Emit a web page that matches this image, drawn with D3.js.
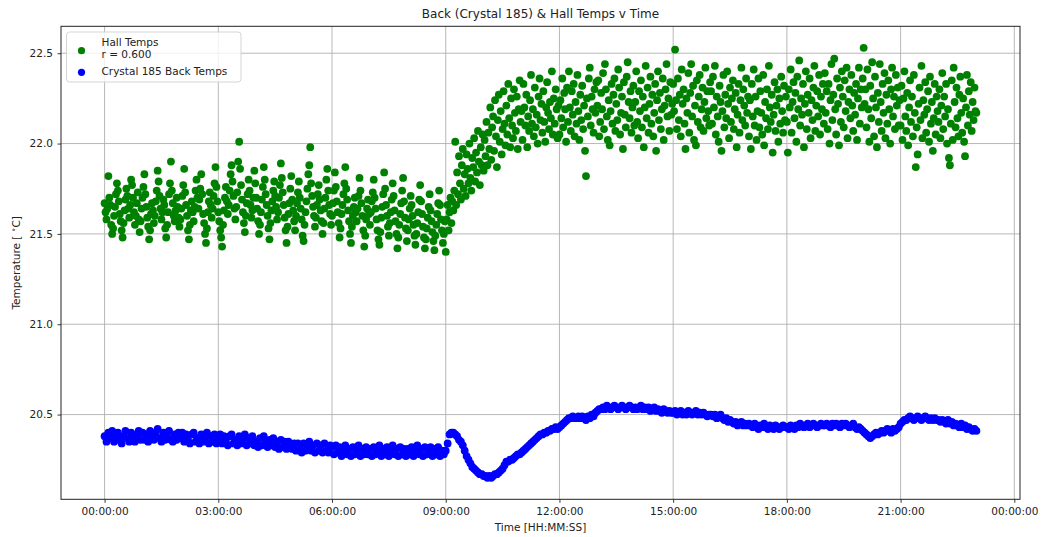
<!DOCTYPE html>
<html>
<head>
<meta charset="utf-8">
<script src="https://cdn.jsdelivr.net/npm/d3@7"></script>
<style>
  body { margin: 0; background: #fff; }
  svg text { font-family: "DejaVu Sans", sans-serif; fill: #222; }
</style>
</head>
<body>
<div id="chart"></div>
<script>
// Hall temps, one reading every 1.5 minutes from 00:00:00 (one row per hour)
const hallStepMin = 1.5;
const hallTemps = [
  21.67,21.62,21.58,21.64,21.82,21.70,21.66,21.55,21.50,21.53,21.60,21.65,21.72,21.78,21.74,21.68,21.61,21.57,21.52,21.48,21.56,21.63,21.69,21.75,21.71,21.64,21.59,21.66,21.80,21.77,21.70,21.62,21.55,21.60,21.67,21.73,21.58,21.51,21.57,21.64,
  21.70,21.76,21.83,21.72,21.65,21.59,21.54,21.47,21.52,21.61,21.67,21.63,21.56,21.60,21.68,21.74,21.85,21.79,21.71,21.64,21.58,21.62,21.69,21.66,21.53,21.48,21.55,21.62,21.72,21.78,21.90,21.74,21.67,21.60,21.57,21.63,21.70,21.65,21.59,21.54,
  21.58,21.64,21.71,21.77,21.86,21.73,21.66,21.60,21.52,21.47,21.55,21.63,21.68,21.62,21.57,21.65,21.74,21.80,21.70,21.64,21.69,21.75,21.83,21.72,21.61,21.56,21.50,21.45,21.53,21.62,21.68,21.73,21.66,21.59,21.64,21.71,21.78,21.87,21.76,21.68,
  21.62,21.57,21.52,21.48,21.43,21.55,21.63,21.70,21.76,21.68,21.61,21.66,21.74,21.83,21.88,21.79,21.71,21.64,21.58,21.65,21.73,21.90,22.01,21.86,21.77,21.69,21.62,21.56,21.51,21.60,21.67,21.72,21.80,21.74,21.66,21.59,21.63,21.70,21.85,21.78,
  21.70,21.64,21.57,21.50,21.55,21.62,21.69,21.76,21.87,21.80,21.72,21.66,21.60,21.53,21.47,21.56,21.63,21.68,21.74,21.79,21.71,21.65,21.58,21.62,21.70,21.77,21.89,21.81,21.73,21.66,21.59,21.52,21.45,21.54,21.61,21.67,21.75,21.82,21.69,21.63,
  21.57,21.52,21.60,21.67,21.73,21.79,21.70,21.64,21.58,21.49,21.46,21.55,21.62,21.68,21.75,21.83,21.88,21.98,21.78,21.71,21.65,21.60,21.54,21.59,21.66,21.72,21.77,21.69,21.63,21.57,21.50,21.56,21.64,21.70,21.80,21.86,21.74,21.66,21.61,21.55,
  21.60,21.67,21.74,21.84,21.76,21.68,21.62,21.56,21.48,21.53,21.61,21.66,21.72,21.78,21.87,21.75,21.69,21.63,21.57,21.50,21.45,21.54,21.60,21.65,21.70,21.62,21.57,21.64,21.71,21.81,21.74,21.67,21.60,21.52,21.43,21.49,21.58,21.64,21.69,21.61,
  21.55,21.62,21.68,21.73,21.80,21.70,21.64,21.58,21.52,21.47,21.44,21.51,21.59,21.65,21.72,21.84,21.75,21.66,21.60,21.54,21.49,21.56,21.62,21.69,21.78,21.71,21.63,21.57,21.50,21.42,21.48,21.55,21.61,21.67,21.74,21.81,21.68,21.59,21.53,21.46,
  21.52,21.58,21.64,21.71,21.66,21.60,21.55,21.49,21.44,21.50,21.56,21.62,21.69,21.77,21.68,21.61,21.54,21.48,21.42,21.47,21.53,21.59,21.65,21.72,21.63,21.57,21.51,21.46,21.41,21.49,21.55,21.61,21.67,21.74,21.66,21.58,21.52,21.45,21.50,21.57,
  21.40,21.58,21.66,21.52,21.62,21.70,21.56,21.68,21.63,21.74,22.01,21.66,21.84,21.72,21.93,21.78,21.69,21.88,21.97,21.75,21.83,21.71,21.94,21.86,21.78,22.00,21.81,21.74,21.92,21.87,22.03,21.79,21.95,21.84,22.07,21.90,21.77,21.98,21.88,22.05,
  21.85,22.02,21.93,22.12,21.88,22.06,21.97,22.20,21.91,22.09,22.15,21.96,22.24,22.04,21.87,22.13,22.27,22.01,22.18,21.94,22.08,22.29,22.11,21.99,22.21,22.05,22.33,22.14,21.98,22.25,22.10,22.03,22.30,22.17,22.07,22.26,21.97,22.19,22.35,22.12,
  22.18,22.02,22.33,22.20,22.10,22.27,21.98,22.15,22.07,22.24,22.38,22.11,22.19,22.04,22.31,22.09,22.16,22.00,22.26,22.36,22.13,22.22,22.06,22.29,22.12,22.01,22.20,22.34,22.17,22.08,22.23,22.14,22.40,22.05,22.25,22.11,22.30,22.19,22.03,22.21,
  22.05,22.24,22.14,22.36,22.09,22.28,22.19,22.01,22.31,22.12,22.40,22.20,22.07,22.29,22.16,22.33,22.04,22.23,22.11,22.38,22.18,22.02,22.27,22.13,22.32,22.08,22.21,21.96,21.82,22.25,22.15,22.36,22.42,22.10,22.26,22.19,22.06,22.30,22.17,22.34,
  22.21,22.35,22.04,22.12,22.28,22.19,22.39,22.08,22.44,22.30,22.15,22.02,22.24,21.99,22.18,22.33,22.11,22.27,22.36,22.07,22.22,22.13,22.41,22.31,22.05,22.17,22.26,21.97,22.34,22.16,22.09,22.37,22.45,22.23,22.14,22.29,22.06,22.20,22.32,22.10,
  22.23,22.40,22.12,22.03,22.29,22.18,22.35,22.09,22.26,21.98,22.20,22.43,22.14,22.31,22.06,22.22,22.37,22.11,22.27,22.04,22.17,22.33,21.96,22.24,22.40,22.13,22.28,22.08,22.19,22.36,22.02,22.21,22.30,22.44,22.15,22.25,22.07,22.34,22.16,22.22,
  22.33,22.18,22.52,22.24,22.08,22.36,22.13,22.27,22.04,22.41,22.22,22.30,22.11,21.97,22.25,22.17,22.39,22.06,22.28,22.44,22.15,22.32,22.02,22.21,21.99,22.35,22.12,22.26,22.38,22.09,22.19,22.31,22.07,22.23,22.42,22.14,22.29,22.18,22.10,22.34,
  22.29,22.11,22.37,22.20,22.43,22.05,22.26,22.15,22.01,22.32,22.23,21.96,22.18,22.38,22.09,22.27,22.14,22.40,22.22,22.03,22.31,22.12,22.25,22.35,22.08,22.19,22.28,21.98,22.16,22.33,22.06,22.24,22.42,22.13,22.30,22.21,22.10,22.36,22.17,22.26,
  22.04,22.24,21.97,22.33,22.15,22.41,22.10,22.26,22.02,22.18,22.36,22.09,22.29,22.17,22.05,22.38,21.99,22.23,22.14,22.30,22.08,22.43,22.20,22.12,22.27,21.95,22.16,22.34,22.07,22.21,22.30,22.01,22.25,22.11,22.37,22.18,22.06,22.32,22.13,22.26,
  22.12,21.95,22.30,22.20,22.41,22.06,22.23,22.34,22.14,22.28,22.01,22.37,22.19,22.46,22.10,22.25,22.16,22.33,21.98,22.22,22.40,22.08,22.27,22.17,22.36,22.03,22.24,22.13,22.31,22.43,22.07,22.21,22.29,22.15,22.38,22.05,22.26,22.19,22.33,22.11,
  22.39,22.17,22.29,22.08,22.33,22.00,22.24,22.44,22.13,22.27,22.47,22.19,22.05,22.36,22.22,21.99,22.31,22.12,22.40,22.26,22.09,22.35,22.18,22.42,22.03,22.23,22.30,22.14,22.38,22.21,22.07,22.28,22.16,22.33,22.02,22.25,22.42,22.11,22.30,22.20,
  22.36,22.53,22.22,22.30,22.09,22.41,22.19,22.01,22.32,22.14,22.45,22.25,22.04,22.37,22.20,21.98,22.28,22.12,22.44,22.23,22.07,22.33,22.17,22.39,22.03,22.27,22.11,22.35,22.19,22.00,22.30,22.42,22.15,22.26,22.08,22.38,22.21,22.31,22.10,22.24,
  22.10,22.32,22.02,22.25,22.40,22.15,22.07,22.28,21.99,22.20,22.35,22.12,22.26,22.04,22.38,22.17,21.87,22.09,21.94,22.22,22.31,22.13,22.43,22.03,22.24,22.16,22.34,22.06,22.19,22.29,22.01,22.37,22.11,22.23,21.96,22.14,22.33,22.05,22.26,22.18,
  22.12,22.30,22.03,22.21,22.39,22.08,22.26,22.15,22.33,22.00,22.19,21.92,21.88,22.11,22.35,22.02,22.42,22.23,22.09,22.31,22.14,22.04,22.27,22.37,22.17,22.06,22.25,22.01,21.93,22.20,22.38,22.10,22.29,22.16,22.34,22.07,22.23,22.13,22.31,22.18,
  22.17
];

// Crystal 185 back temps, one reading every 3 minutes from 00:00:00
const backStepMin = 3;
const backTemps = [
  20.38,20.35,20.40,20.37,20.41,20.35,20.39,20.40,20.36,20.34,20.38,20.41,20.37,20.35,20.40,20.38,20.35,20.39,20.41,20.36,
  20.40,20.36,20.39,20.35,20.41,20.38,20.36,20.40,20.42,20.37,20.35,20.40,20.36,20.38,20.41,20.36,20.35,20.39,20.36,20.40,
  20.37,20.40,20.35,20.39,20.36,20.34,20.39,20.40,20.35,20.37,20.34,20.39,20.35,20.37,20.40,20.34,20.38,20.35,20.39,20.34,
  20.36,20.39,20.34,20.38,20.35,20.33,20.38,20.39,20.34,20.36,20.33,20.38,20.34,20.36,20.39,20.33,20.37,20.34,20.38,20.33,
  20.35,20.32,20.37,20.33,20.38,20.35,20.32,20.36,20.33,20.37,20.32,20.35,20.31,20.36,20.32,20.35,20.31,20.35,20.32,20.31,
  20.34,20.30,20.34,20.31,20.29,20.34,20.30,20.32,20.35,20.30,20.33,20.29,20.34,20.30,20.33,20.29,20.34,20.30,20.29,20.33,
  20.32,20.28,20.33,20.29,20.32,20.27,20.30,20.33,20.28,20.31,20.27,20.32,20.28,20.30,20.33,20.27,20.31,20.28,20.32,20.28,
  20.31,20.27,20.32,20.28,20.30,20.33,20.27,20.31,20.28,20.32,20.27,20.30,20.33,20.28,20.31,20.27,20.32,20.28,20.31,20.27,
  20.31,20.28,20.32,20.27,20.30,20.33,20.28,20.31,20.27,20.32,20.28,20.30,20.32,20.27,20.31,20.28,20.32,20.27,20.30,20.28,
  20.30,20.34,20.39,20.40,20.40,20.39,20.38,20.36,20.35,20.33,20.30,20.27,20.25,20.23,20.21,20.20,20.19,20.18,20.17,20.17,
  20.16,20.16,20.15,20.16,20.15,20.16,20.17,20.17,20.18,20.19,20.20,20.22,20.24,20.24,20.25,20.25,20.26,20.27,20.28,20.28,
  20.29,20.30,20.31,20.32,20.33,20.34,20.35,20.36,20.37,20.38,20.39,20.39,20.40,20.40,20.41,20.41,20.42,20.42,20.43,20.42,
  20.43,20.44,20.45,20.46,20.47,20.48,20.48,20.49,20.48,20.48,20.49,20.48,20.49,20.48,20.47,20.49,20.48,20.50,20.49,20.51,
  20.52,20.53,20.53,20.54,20.53,20.55,20.54,20.53,20.54,20.55,20.54,20.53,20.54,20.55,20.54,20.53,20.54,20.55,20.54,20.53,
  20.54,20.53,20.54,20.55,20.53,20.54,20.53,20.54,20.52,20.53,20.54,20.52,20.53,20.52,20.51,20.53,20.52,20.51,20.52,20.51,
  20.51,20.52,20.50,20.51,20.52,20.50,20.51,20.50,20.52,20.51,20.50,20.51,20.52,20.50,20.51,20.50,20.51,20.50,20.49,20.50,
  20.50,20.49,20.50,20.48,20.49,20.50,20.48,20.47,20.48,20.46,20.47,20.46,20.45,20.46,20.44,20.45,20.46,20.44,20.45,20.44,
  20.45,20.44,20.43,20.45,20.44,20.42,20.44,20.43,20.45,20.43,20.42,20.44,20.43,20.42,20.44,20.43,20.42,20.43,20.44,20.43,
  20.43,20.42,20.44,20.43,20.42,20.44,20.43,20.45,20.44,20.43,20.44,20.45,20.43,20.44,20.45,20.44,20.43,20.44,20.45,20.44,
  20.44,20.45,20.44,20.43,20.45,20.44,20.45,20.44,20.43,20.45,20.44,20.45,20.44,20.43,20.44,20.45,20.43,20.42,20.43,20.42,
  20.41,20.40,20.39,20.38,20.37,20.38,20.39,20.40,20.39,20.40,20.41,20.40,20.41,20.42,20.41,20.40,20.42,20.41,20.42,20.43,
  20.45,20.46,20.47,20.47,20.48,20.49,20.48,20.47,20.48,20.49,20.48,20.47,20.48,20.49,20.48,20.47,20.48,20.47,20.48,20.47,
  20.47,20.46,20.47,20.46,20.45,20.47,20.45,20.46,20.44,20.45,20.44,20.43,20.45,20.43,20.44,20.42,20.43,20.42,20.41,20.42,
  20.41
];

const xTickHours = [0, 3, 6, 9, 12, 15, 18, 21, 24];
const yTicks = [20.5, 21.0, 21.5, 22.0, 22.5];
const legendLabels = [["Hall Temps", "r = 0.600"], ["Crystal 185 Back Temps"]];

function drawChart() {
    const W = 1041, H = 537;
    const margin = { top: 26.3, right: 21, bottom: 37.7, left: 61 };
    const width = W - margin.left - margin.right;
    const height = H - margin.top - margin.bottom;
    const dotR = 3.9;

    const hall = hallTemps.map((v, i) => ({ t: i * hallStepMin / 60, v }));
    const back = backTemps.map((v, i) => ({ t: i * backStepMin / 60, v }));
    const all = hall.concat(back);

    // matplotlib style 5% margins
    const padded = ext => {
        const s = ext[1] - ext[0];
        return [ext[0] - 0.05 * s, ext[1] + 0.05 * s];
    };
    const x = d3.scaleLinear().domain(padded(d3.extent(all, d => d.t))).range([0, width]);
    const y = d3.scaleLinear().domain(padded(d3.extent(all, d => d.v))).range([height, 0]);

    const svg = d3.select("#chart").append("svg")
        .attr("width", W).attr("height", H)
        .append("g")
        .attr("transform", `translate(${margin.left},${margin.top})`);

    // grid
    svg.append("g").selectAll("line").data(xTickHours).join("line")
        .attr("x1", d => x(d)).attr("x2", d => x(d))
        .attr("y1", 0).attr("y2", height)
        .attr("stroke", "#b0b0b0").attr("stroke-width", 0.9);
    svg.append("g").selectAll("line").data(yTicks).join("line")
        .attr("x1", 0).attr("x2", width)
        .attr("y1", d => y(d)).attr("y2", d => y(d))
        .attr("stroke", "#b0b0b0").attr("stroke-width", 0.9);

    // points
    svg.append("g").selectAll("circle").data(hall).join("circle")
        .attr("cx", d => x(d.t)).attr("cy", d => y(d.v)).attr("r", dotR)
        .attr("fill", "#008000");
    svg.append("g").selectAll("circle").data(back).join("circle")
        .attr("cx", d => x(d.t)).attr("cy", d => y(d.v)).attr("r", dotR)
        .attr("fill", "#0000ff");

    // axes
    const fmt = h => String(h % 24).padStart(2, "0") + ":00:00";
    const xAxis = svg.append("g")
        .attr("transform", `translate(0,${height})`)
        .call(d3.axisBottom(x).tickValues(xTickHours).tickFormat(fmt).tickSize(3.5).tickPadding(4.5));
    const yAxis = svg.append("g")
        .call(d3.axisLeft(y).tickValues(yTicks).tickFormat(d3.format(".1f")).tickSize(3.5).tickPadding(4.5));
    [xAxis, yAxis].forEach(a => {
        a.select(".domain").remove();
        a.selectAll("line").attr("stroke", "#222").attr("stroke-width", 0.9);
        a.selectAll("text").style("font-size", "10.5px").style("font-family", "DejaVu Sans").attr("fill", "#222");
    });

    // frame
    svg.append("rect")
        .attr("width", width).attr("height", height)
        .attr("fill", "none").attr("stroke", "#222").attr("stroke-width", 1);

    // labels
    svg.append("text")
        .attr("x", width / 2).attr("y", -8)
        .attr("text-anchor", "middle")
        .style("font-size", "12px")
        .text("Back (Crystal 185) & Hall Temps v Time");
    svg.append("text")
        .attr("x", width / 2).attr("y", height + 32)
        .attr("text-anchor", "middle")
        .style("font-size", "10.5px")
        .text("Time [HH:MM:SS]");
    const yl = svg.append("text")
        .attr("transform", `translate(${-margin.left + 19.5},${height / 2}) rotate(-90)`)
        .attr("text-anchor", "middle")
        .style("font-size", "10.5px");
    yl.append("tspan").text("Temperature [ ");
    yl.append("tspan").attr("dy", -4).style("font-size", "7.5px").text("∘");
    yl.append("tspan").attr("dy", 4).text("C]");

    // legend
    const lg = svg.append("g").attr("transform", "translate(5.5,5.7)");
    lg.append("rect")
        .attr("width", 174.5).attr("height", 50).attr("rx", 3)
        .attr("fill", "#fff").attr("fill-opacity", 0.8)
        .attr("stroke", "#d0d0d0").attr("stroke-width", 0.9);
    lg.append("circle").attr("cx", 15).attr("cy", 18.7).attr("r", 3.6).attr("fill", "#008000");
    lg.append("circle").attr("cx", 15).attr("cy", 40.3).attr("r", 3.6).attr("fill", "#0000ff");
    const t1 = lg.append("text").attr("x", 35).attr("y", 13.7).style("font-size", "10.5px");
    t1.append("tspan").attr("x", 35).text(legendLabels[0][0]);
    t1.append("tspan").attr("x", 35).attr("dy", 12.6).text(legendLabels[0][1]);
    lg.append("text").attr("x", 35).attr("y", 43.3).style("font-size", "10.5px").text(legendLabels[1][0]);
}

document.addEventListener("DOMContentLoaded", drawChart);
</script>
</body>
</html>
